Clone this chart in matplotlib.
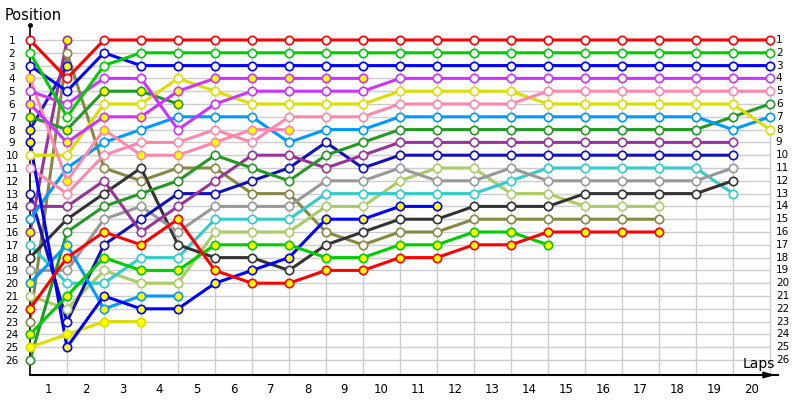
import matplotlib
matplotlib.use('Agg')
import matplotlib.pyplot as plt
import numpy as np

# position after each lap, index 0 = grid
red_a = [1, 4, 1, 1, 1, 1, 1, 1, 1, 1, 1, 1, 1, 1, 1, 1, 1, 1, 1, 1, 1]
red_b = [22, 18, 16, 17, 15, 19, 20, 20, 19, 19, 18, 18, 17, 17, 16, 16, 16, 16]
green_a = [2, 7, 3, 2, 2, 2, 2, 2, 2, 2, 2, 2, 2, 2, 2, 2, 2, 2, 2, 2, 2]
green_b = [24, 21, 18, 19, 19, 17, 17, 17, 18, 18, 17, 17, 16, 16, 17]
blue_a = [3, 5, 2, 3, 3, 3, 3, 3, 3, 3, 3, 3, 3, 3, 3, 3, 3, 3, 3, 3, 3]
blue_b = [9, 25, 21, 22, 22, 20, 19, 18, 15, 15, 14, 14]
violet_a = [5, 6, 4, 4, 8, 6, 5, 5, 5, 5, 4, 4, 4, 4, 4, 4, 4, 4, 4, 4, 4]
violet_b = [6, 9, 7, 7, 5, 4, 4, 4, 4, 4]
pink_a = [11, 13, 10, 9, 9, 8, 9, 7, 7, 7, 6, 6, 6, 6, 5, 5, 5, 5, 5, 5, 5]
pink_b = [4, 12, 8, 10, 10, 9, 8, 8]
yellow_a = [10, 10, 6, 6, 4, 5, 6, 6, 6, 6, 5, 5, 5, 5, 6, 6, 6, 6, 6, 6, 8]
yellow_b = [25, 24, 23, 23]
lblue_a = [15, 11, 9, 8, 7, 7, 7, 9, 8, 8, 7, 7, 7, 7, 7, 7, 7, 7, 7, 8, 7]
lblue_b = [20, 17, 22, 21, 21]
dgreen_a = [26, 16, 14, 13, 12, 10, 11, 12, 10, 9, 8, 8, 8, 8, 8, 8, 8, 8, 8, 7, 6]
dgreen_b = [7, 8, 5, 5, 6]
purple_a = [14, 14, 12, 16, 14, 12, 10, 10, 11, 10, 9, 9, 9, 9, 9, 9, 9, 9, 9, 9]
purple_b = [16, 1]
dblue_a = [13, 23, 17, 15, 13, 13, 12, 11, 9, 11, 10, 10, 10, 10, 10, 10, 10, 10, 10, 10]
dblue_b = [8, 3]
gray_a = [19, 19, 15, 14, 16, 14, 14, 14, 12, 12, 11, 12, 12, 11, 12, 12, 12, 12, 12, 11]
black_a = [18, 15, 13, 11, 17, 18, 18, 19, 17, 16, 15, 15, 14, 14, 14, 13, 13, 13, 13, 12]
cyan_a = [17, 20, 20, 18, 18, 15, 15, 15, 13, 13, 13, 13, 13, 12, 11, 11, 11, 11, 11, 13]
lgreen_a = [21, 22, 19, 20, 20, 16, 16, 16, 14, 14, 12, 11, 11, 13, 13, 14, 14, 14]
olive_a = [23, 2, 11, 12, 11, 11, 13, 13, 16, 17, 16, 16, 15, 15, 15, 15, 15, 15]

lap_labels = ['1', '2', '3', '4', '5', '6', '7', '8', '9', '10',
              '11', '12', '13', '14', '15', '16', '17', '18', '19', '20']
pos_labels = ['1', '2', '3', '4', '5', '6', '7', '8', '9', '10', '11', '12', '13',
              '14', '15', '16', '17', '18', '19', '20', '21', '22', '23', '24', '25', '26']

# (positions, colour, yellow marker) - back to front
drivers = [
    (olive_a, '#888844', False),
    (lgreen_a, '#aacc66', False),
    (cyan_a, '#33cccc', False),
    (black_a, '#333333', False),
    (gray_a, '#999999', False),
    (dblue_b, '#1a1acc', True),
    (dblue_a, '#1111bb', False),
    (purple_b, '#993399', True),
    (purple_a, '#993399', False),
    (dgreen_b, '#229922', True),
    (dgreen_a, '#229922', False),
    (lblue_b, '#0099ff', True),
    (lblue_a, '#0099ff', False),
    (yellow_b, '#dddd00', True),
    (yellow_a, '#dddd00', False),
    (pink_b, '#ff88aa', True),
    (pink_a, '#ff88aa', False),
    (violet_b, '#cc33ff', True),
    (violet_a, '#cc33ff', False),
    (blue_b, '#0000ff', True),
    (blue_a, '#0000ff', False),
    (green_b, '#00cc00', True),
    (green_a, '#00cc00', False),
    (red_b, '#ff0000', True),
    (red_a, '#ff0000', False),
]

fig = plt.figure(figsize=(8, 4), dpi=100)
ax = fig.add_axes([0.0375, 0.0625, 0.935, 0.875])
n_laps = len(lap_labels)
n_pos = len(pos_labels)
ax.set_xlim(0, 20.22)
ax.set_ylim(27.17, -0.17)

positions = np.arange(1, n_pos + 1)
lap_x = np.arange(1, n_laps + 1)
ax.hlines(positions, 0, n_laps, color='#cccccc', lw=1, zorder=1)
ax.vlines(lap_x, 1, 27.17, color='#cccccc', lw=1, zorder=1)

for pos, col, filled in drivers:
    x = np.arange(len(pos))
    ax.plot(x, pos, color=col, lw=2.2, solid_joinstyle='round', zorder=2)
for pos, col, filled in drivers:
    x = np.arange(len(pos))
    ax.plot(x, pos, 'o', ms=6, mfc='#ffff00' if filled else 'white',
            mec=col, mew=1.2, zorder=3, clip_on=False)

for s in ['top', 'right']:
    ax.spines[s].set_visible(False)
ax.spines['left'].set_color('black')
ax.spines['bottom'].set_color('black')
ax.spines['left'].set_linewidth(1.2)
ax.spines['bottom'].set_linewidth(1.5)

ax.set_yticks(positions)
ax.set_yticklabels(pos_labels, fontsize=7.5)
ax.tick_params(axis='y', length=0, pad=13)
for lbl in ax.get_yticklabels():
    lbl.set_horizontalalignment('center')
ax.set_xticks(lap_x - 0.5)
ax.set_xticklabels(lap_labels, fontsize=8.5)
ax.tick_params(axis='x', length=0, pad=6)

for p, lbl in zip(positions, pos_labels):
    ax.annotate(lbl, xy=(n_laps, p), xytext=(6, 0), textcoords='offset pixels',
                ha='left', va='center', fontsize=7.5, annotation_clip=False)

ax.annotate('', xy=(1.0, 0), xycoords='axes fraction', xytext=(0.97, 0),
            arrowprops=dict(arrowstyle='-|>,head_length=0.7,head_width=0.2',
                            color='black', lw=1))
ax.plot([0], [1], 'ko', ms=2.5, transform=ax.transAxes, clip_on=False)

fig.text(5 / 800, 1 - 15 / 400, 'Position', fontsize=10.5, va='center')
fig.text(743 / 800, 1 - 364 / 400, 'Laps', fontsize=10, va='center')

fig.savefig('out.png', dpi=100)
